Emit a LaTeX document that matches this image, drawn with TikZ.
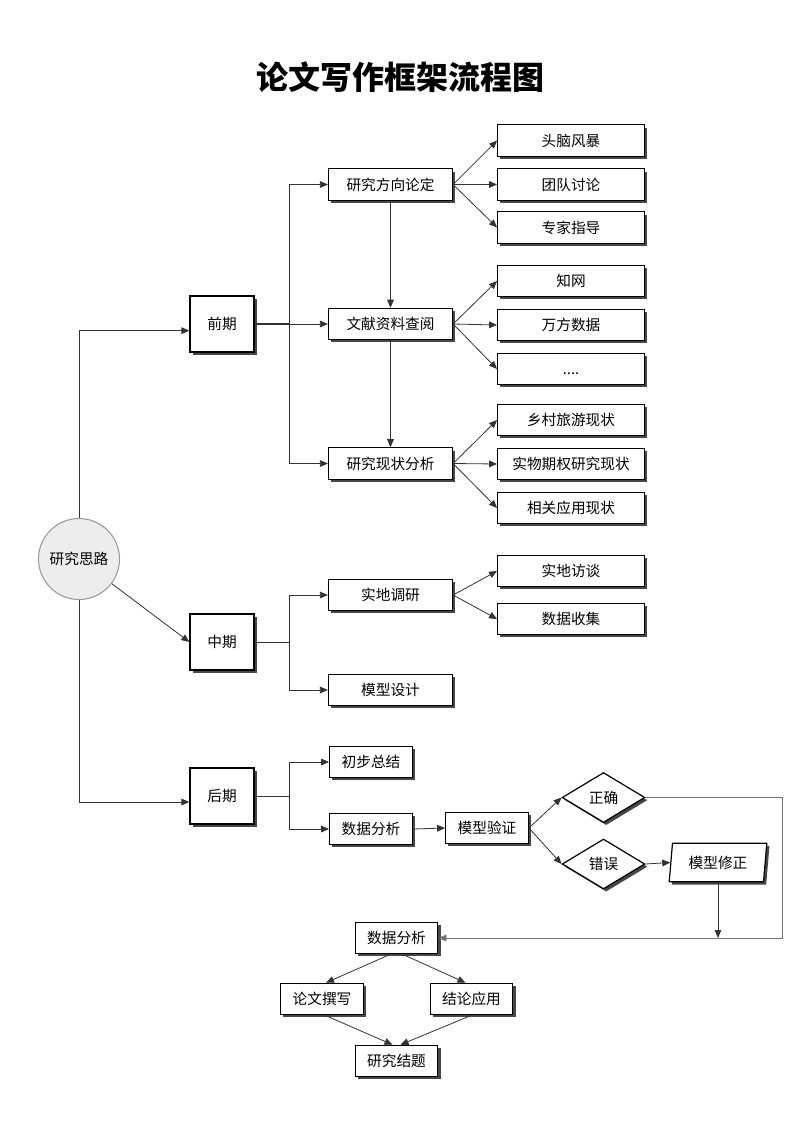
\documentclass[tikz,border=0pt]{standalone}
\usepackage{fontspec}
\setmainfont{Noto Sans CJK SC}
\usetikzlibrary{shapes.geometric,shadows,arrows.meta,calc}
\begin{document}
\begin{tikzpicture}[x=0.75pt,y=-0.75pt,
  shd/.style={drop shadow={shadow xshift=2pt,shadow yshift=-2pt,fill=black!72,opacity=1}},
  base/.style={draw=black,line width=0.9pt,fill=white,inner sep=0pt,font=\fontsize{11}{13}\selectfont,shd},
  lvtwo/.style={base,minimum width=93pt,minimum height=23.5pt},
  lvthree/.style={base,minimum width=110pt,minimum height=23.5pt},
  phase/.style={base,minimum width=48pt,minimum height=42pt},
  small/.style={base,minimum width=62pt,minimum height=23.5pt},
  dia/.style={base,diamond,minimum width=62pt,minimum height=37.5pt},
  para/.style={base,trapezium,trapezium stretches=true,trapezium left angle=81,trapezium right angle=99,minimum width=73.5pt,minimum height=29pt},
  conn/.style={draw=black!80,line width=0.6pt},
  arr/.style={conn,-{Triangle[length=6pt,width=5pt]}}
]
\useasboundingbox (0,0) rectangle (800,1131);

\node[font=\fontsize{24}{28}\selectfont\bfseries] (title) at (400,77) {论文写作框架流程图};

\node[circle,draw=black!40,line width=0.8pt,fill=black!7,minimum size=60.75pt,inner sep=0pt,font=\fontsize{11}{13}\selectfont] (root) at (79,559) {研究思路};

\node[phase] (qq) at (222,324) {前期};
\node[phase] (zq) at (222,642) {中期};
\node[phase] (hq) at (222,796) {后期};

\node[lvtwo] (a1) at (390.5,184.5) {研究方向论定};
\node[lvtwo] (a2) at (390.5,324) {文献资料查阅};
\node[lvtwo] (a3) at (390.5,463.5) {研究现状分析};

\node[lvthree] (b1) at (571,140.5) {头脑风暴};
\node[lvthree] (b2) at (571,184.5) {团队讨论};
\node[lvthree] (b3) at (571,227.5) {专家指导};
\node[lvthree] (b4) at (571,281) {知网};
\node[lvthree] (b5) at (571,325) {万方数据};
\node[lvthree] (b6) at (571,369) {\vphantom{知}....};
\node[lvthree] (b7) at (571,420) {乡村旅游现状};
\node[lvthree] (b8) at (571,464) {实物期权研究现状};
\node[lvthree] (b9) at (571,508) {相关应用现状};

\node[lvtwo] (c1) at (390.5,595) {实地调研};
\node[lvtwo] (c2) at (390.5,690) {模型设计};
\node[lvthree] (d1) at (571,571) {实地访谈};
\node[lvthree] (d2) at (571,619) {数据收集};

\node[small] (e1) at (371,762) {初步总结};
\node[small] (e2) at (371,829) {数据分析};
\node[small] (yz) at (487,828) {模型验证};
\node[dia] (ok) at (603.5,797.5) {正确};
\node[dia] (bad) at (603.5,864) {错误};
\node[para] (fix) at (718,862.5) {模型修正};

\node[small] (s2) at (396.5,938) {数据分析};
\node[small] (lw) at (322,999) {论文撰写};
\node[small] (jl) at (471.5,999) {结论应用};
\node[small] (jt) at (396.5,1061) {研究结题};

\coordinate (rt) at (782,938);

% root connectors
\draw[arr] (root.north) |- ([yshift=-5pt]qq.west);
\draw[arr] (root) -- (zq.west);
\draw[arr] (root.south) |- ([yshift=-4.5pt]hq.west);

% qianqi
\draw[conn,line width=1.3pt] (qq.east) -- ++(35,0) coordinate (qj);
\draw[arr] (qj) |- (a1.west);
\draw[arr] (qj) -- (a2.west);
\draw[arr] (qj) |- (a3.west);
\draw[arr] (a1) -- (a2);
\draw[arr] (a2) -- (a3);
\foreach \t in {b1,b2,b3} \draw[arr] (a1.east) -- (\t.west);
\foreach \t in {b4,b5,b6} \draw[arr] (a2.east) -- (\t.west);
\foreach \t in {b7,b8,b9} \draw[arr] (a3.east) -- (\t.west);

% zhongqi
\draw[conn] (zq.east) -- ++(35,0) coordinate (zj);
\draw[arr] (zj) |- (c1.west);
\draw[arr] (zj) |- (c2.west);
\draw[arr] (c1.east) -- (d1.west);
\draw[arr] (c1.east) -- (d2.west);

% houqi
\draw[conn] (hq.east) -- ++(35,0) coordinate (hj);
\draw[arr] (hj) |- (e1.west);
\draw[arr] (hj) |- (e2.west);
\draw[arr] (e2.east) -- (yz.west);
\draw[arr] (yz.east) -- (ok.west);
\draw[arr] (yz.east) -- (bad.west);
\draw[arr] (bad.east) -- (fix.west);
\draw[arr] (fix.south) -- (fix.south |- s2.east);
\draw[arr,draw=black!55] (ok.east) -| (rt) -- (s2.east);

% bottom
\draw[arr] ($(s2.south)+(-6,0)$) -- ($(lw.north)+(4,0)$);
\draw[arr] ($(s2.south)+(6,0)$) -- ($(jl.north)+(-6,0)$);
\draw[arr] ($(lw.south)+(3,0)$) -- ($(jt.north)+(-4,0)$);
\draw[arr] ($(jl.south)+(0,0)$) -- ($(jt.north)+(4,0)$);
\end{tikzpicture}
\end{document}
